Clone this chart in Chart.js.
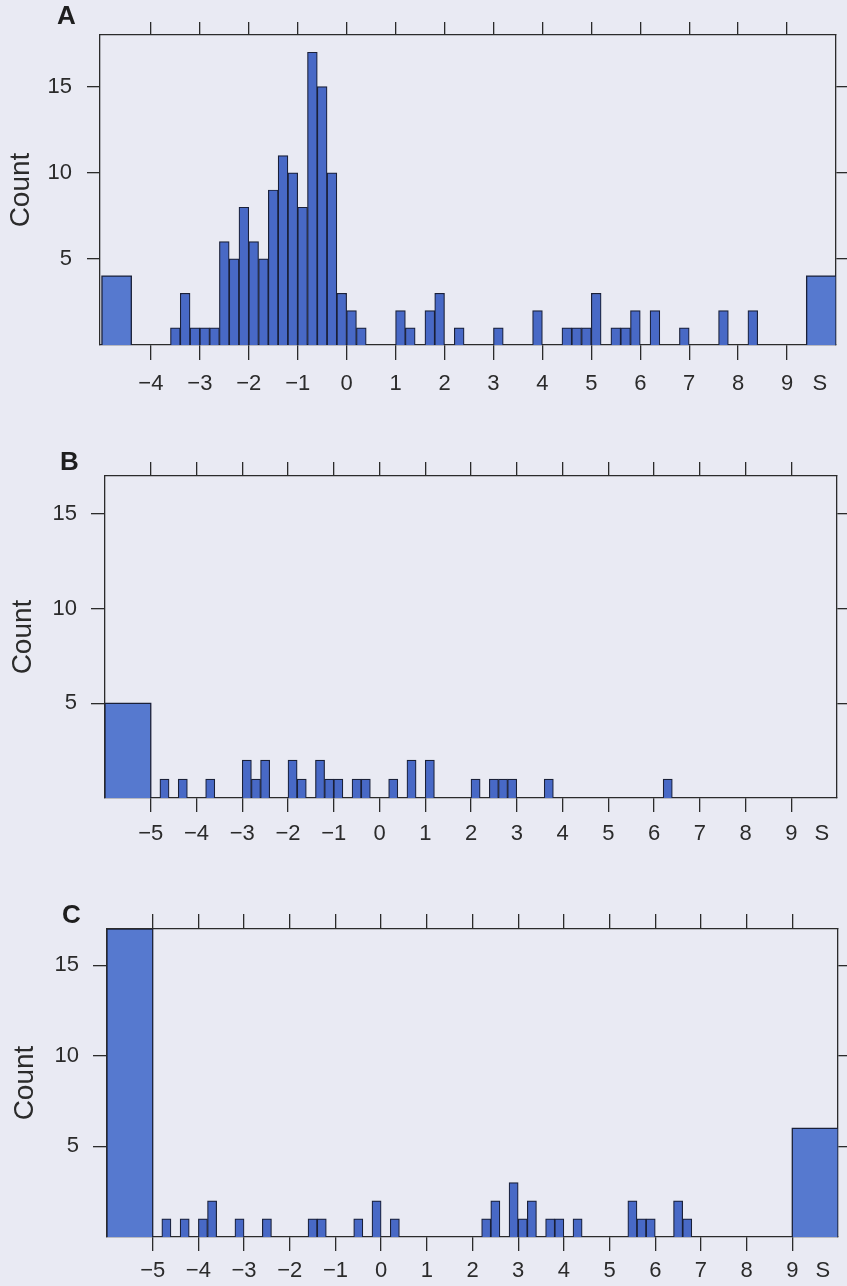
<!DOCTYPE html>
<html>
<head>
<meta charset="utf-8">
<script src="https://cdn.jsdelivr.net/npm/chart.js@4.4.1/dist/chart.umd.min.js"></script>
<style>
  html, body { margin: 0; padding: 0; background: #e9eaf3; }
  #page { position: relative; width: 847px; height: 1286px; overflow: hidden; background: #e9eaf3; }
  canvas { position: absolute; left: 0; }
  .tag { position: absolute; font: bold 26px "Liberation Sans", Arial, sans-serif; color: #1e1e1e; line-height: 26px; }
</style>
</head>
<body>
<div id="page">
  <canvas id="chartA" width="847" height="420" style="top:0px"></canvas>
  <canvas id="chartB" width="847" height="440" style="top:420px"></canvas>
  <canvas id="chartC" width="847" height="426" style="top:860px"></canvas>
  <div class="tag" style="left:57px;top:2px">A</div>
  <div class="tag" style="left:60px;top:448px">B</div>
  <div class="tag" style="left:62px;top:901px">C</div>
</div>
<script>
// histogram bins are 0.2 wide, given by their lower edge
var binWidth = 0.2;

// panel A
var binsA   = [-3.6, -3.4, -3.2, -3.0, -2.8, -2.6, -2.4, -2.2, -2.0, -1.8, -1.6, -1.4, -1.2, -1.0, -0.8, -0.6, -0.4, -0.2, 0.0, 0.2,
               1.0, 1.2, 1.6, 1.8, 2.2, 3.0, 3.8, 4.4, 4.6, 4.8, 5.0, 5.4, 5.6, 5.8, 6.2, 6.8, 7.6, 8.2];
var countsA = [1, 3, 1, 1, 1, 6, 5, 8, 6, 5, 9, 11, 10, 8, 17, 15, 10, 3, 2, 1,
               2, 1, 2, 3, 1, 1, 2, 1, 1, 1, 3, 1, 1, 2, 2, 1, 2, 2];
var underEdgesA = [-5.0, -4.4], underCountA = 4;
var overEdgesA  = [9.4, 10.0],  overCountA  = 4;
var xRangeA = [-5.04, 10.0];
var yMaxA = 18;

// panel B
var binsB   = [-4.8, -4.4, -3.8, -3.0, -2.8, -2.6, -2.0, -1.8, -1.4, -1.2, -1.0, -0.6, -0.4, 0.2, 0.6, 1.0,
               2.0, 2.4, 2.6, 2.8, 3.6, 6.2];
var countsB = [1, 1, 1, 2, 1, 2, 2, 1, 2, 1, 1, 1, 1, 1, 2, 2,
               1, 1, 1, 1, 1, 1];
var underEdgesB = [-6.0, -5.0], underCountB = 5;
var xRangeB = [-6.0, 10.0];
var yMaxB = 17;

// panel C
var binsC   = [-4.8, -4.4, -4.0, -3.8, -3.2, -2.6, -1.6, -1.4, -0.6, -0.2, 0.2,
               2.2, 2.4, 2.8, 3.0, 3.2, 3.6, 3.8, 4.2, 5.4, 5.6, 5.8, 6.4, 6.6];
var countsC = [1, 1, 1, 2, 1, 1, 1, 1, 1, 2, 1,
               1, 2, 3, 1, 2, 1, 1, 1, 2, 1, 1, 2, 1];
var underEdgesC = [-6.0, -5.0], underCountC = 17;
var overEdgesC  = [9.0, 10.0],  overCountC  = 6;
var xRangeC = [-6.0, 10.0];
var yMaxC = 17;

// axis ticks
var xTicksA  = [-4, -3, -2, -1, 0, 1, 2, 3, 4, 5, 6, 7, 8, 9];
var xTicksBC = [-5, -4, -3, -2, -1, 0, 1, 2, 3, 4, 5, 6, 7, 8, 9];
var yTicks   = [5, 10, 15];
var sLabel = 'S';
var sPos = 9.67;

Chart.defaults.font.family = '"Liberation Sans", Arial, sans-serif';
Chart.defaults.color = '#2b2b2b';

var ink = '#2b2b2b';
var lineW = 1.3;
var barFill = '#4869c6';
var edgeFill = '#5679cf';
var barLine = '#1a2038';

function fmtTick(v) {
  if (v === sPos) return sLabel;
  return v < 0 ? '\u2212' + Math.abs(v) : String(v);
}

function tickList(vals) {
  return function(scale) { scale.ticks = vals.map(function(v) { return { value: v }; }); };
}

function blockData(edges, count) {
  return [{ x: edges[0], y: 0 }, { x: edges[0], y: count }, { x: edges[1], y: count }, { x: edges[1], y: 0 }];
}

function histChart(id, bins, counts, blocks, xRange, yMax, xTicks, lay) {
  var bars = bins.map(function(b, i) { return { x: b + binWidth / 2, y: counts[i] }; });
  var datasets = [{
    type: 'bar',
    data: bars,
    backgroundColor: barFill,
    borderColor: barLine,
    borderWidth: 1.2,
    barPercentage: 1,
    categoryPercentage: 1,
    xAxisID: 'x',
    yAxisID: 'y'
  }];
  blocks.forEach(function(bl) {
    datasets.push({
      type: 'line',
      data: blockData(bl[0], bl[1]),
      backgroundColor: edgeFill,
      borderColor: barLine,
      borderWidth: 1.3,
      fill: 'origin',
      pointRadius: 0,
      tension: 0,
      xAxisID: 'x',
      yAxisID: 'y'
    });
  });

  var H = lay.height;
  new Chart(document.getElementById(id), {
    type: 'bar',
    data: { datasets: datasets },
    options: {
      responsive: false,
      animation: false,
      layout: { padding: 0 },
      plugins: { legend: { display: false }, tooltip: { enabled: false } },
      scales: {
        x: {
          type: 'linear', position: 'bottom', min: xRange[0], max: xRange[1], offset: false,
          afterBuildTicks: tickList(xTicks.concat([sPos])),
          afterFit: function(s) { s.height = H - lay.bottom; },
          grid: {
            offset: false, drawOnChartArea: false, tickLength: lay.tickBottom, lineWidth: lineW,
            tickColor: function(c) { return c.tick && c.tick.value === sPos ? 'rgba(0,0,0,0)' : ink; }
          },
          border: { display: true, color: ink, width: lineW },
          ticks: { font: { size: 22 }, color: ink, padding: lay.padBottom, maxRotation: 0, autoSkip: false,
                   callback: function(v) { return fmtTick(v); } }
        },
        xt: {
          type: 'linear', axis: 'x', position: 'top', min: xRange[0], max: xRange[1], offset: false,
          afterBuildTicks: tickList(xTicks),
          afterFit: function(s) { s.height = lay.top; },
          grid: { offset: false, drawOnChartArea: false, tickLength: lay.tickTop, tickColor: ink, lineWidth: lineW },
          border: { display: true, color: ink, width: lineW },
          ticks: { display: false }
        },
        y: {
          type: 'linear', position: 'left', min: 0, max: yMax,
          afterBuildTicks: tickList(yTicks),
          afterFit: function(s) { s.width = lay.left; },
          grid: { drawOnChartArea: false, tickLength: lay.tickLeft, tickColor: ink, lineWidth: lineW },
          border: { display: true, color: ink, width: lineW },
          ticks: { font: { size: 22 }, color: ink, padding: lay.padLeft },
          title: { display: true, text: 'Count', color: ink, font: { size: 28 }, padding: { top: lay.padTitle, bottom: 0 } }
        },
        yr: {
          type: 'linear', axis: 'y', position: 'right', min: 0, max: yMax,
          afterBuildTicks: tickList(yTicks),
          afterFit: function(s) { s.width = 847 - lay.right; },
          grid: { drawOnChartArea: false, tickLength: 12, tickColor: ink, lineWidth: lineW },
          border: { display: true, color: ink, width: lineW },
          ticks: { display: false }
        }
      }
    }
  });
}

histChart('chartA', binsA, countsA, [[underEdgesA, underCountA], [overEdgesA, overCountA]], xRangeA, yMaxA, xTicksA,
  { height: 420, left: 100, right: 836, top: 35, bottom: 345, tickTop: 13, tickBottom: 15, tickLeft: 13, padBottom: 11, padLeft: 15, padTitle: 4 });

histChart('chartB', binsB, countsB, [[underEdgesB, underCountB]], xRangeB, yMaxB, xTicksBC,
  { height: 440, left: 105, right: 837, top: 56, bottom: 378, tickTop: 14, tickBottom: 14, tickLeft: 14, padBottom: 9, padLeft: 14, padTitle: 6 });

histChart('chartC', binsC, countsC, [[underEdgesC, underCountC], [overEdgesC, overCountC]], xRangeC, yMaxC, xTicksBC,
  { height: 426, left: 107, right: 838, top: 69, bottom: 377, tickTop: 15, tickBottom: 14, tickLeft: 14, padBottom: 7, padLeft: 14, padTitle: 8 });
</script>
</body>
</html>
